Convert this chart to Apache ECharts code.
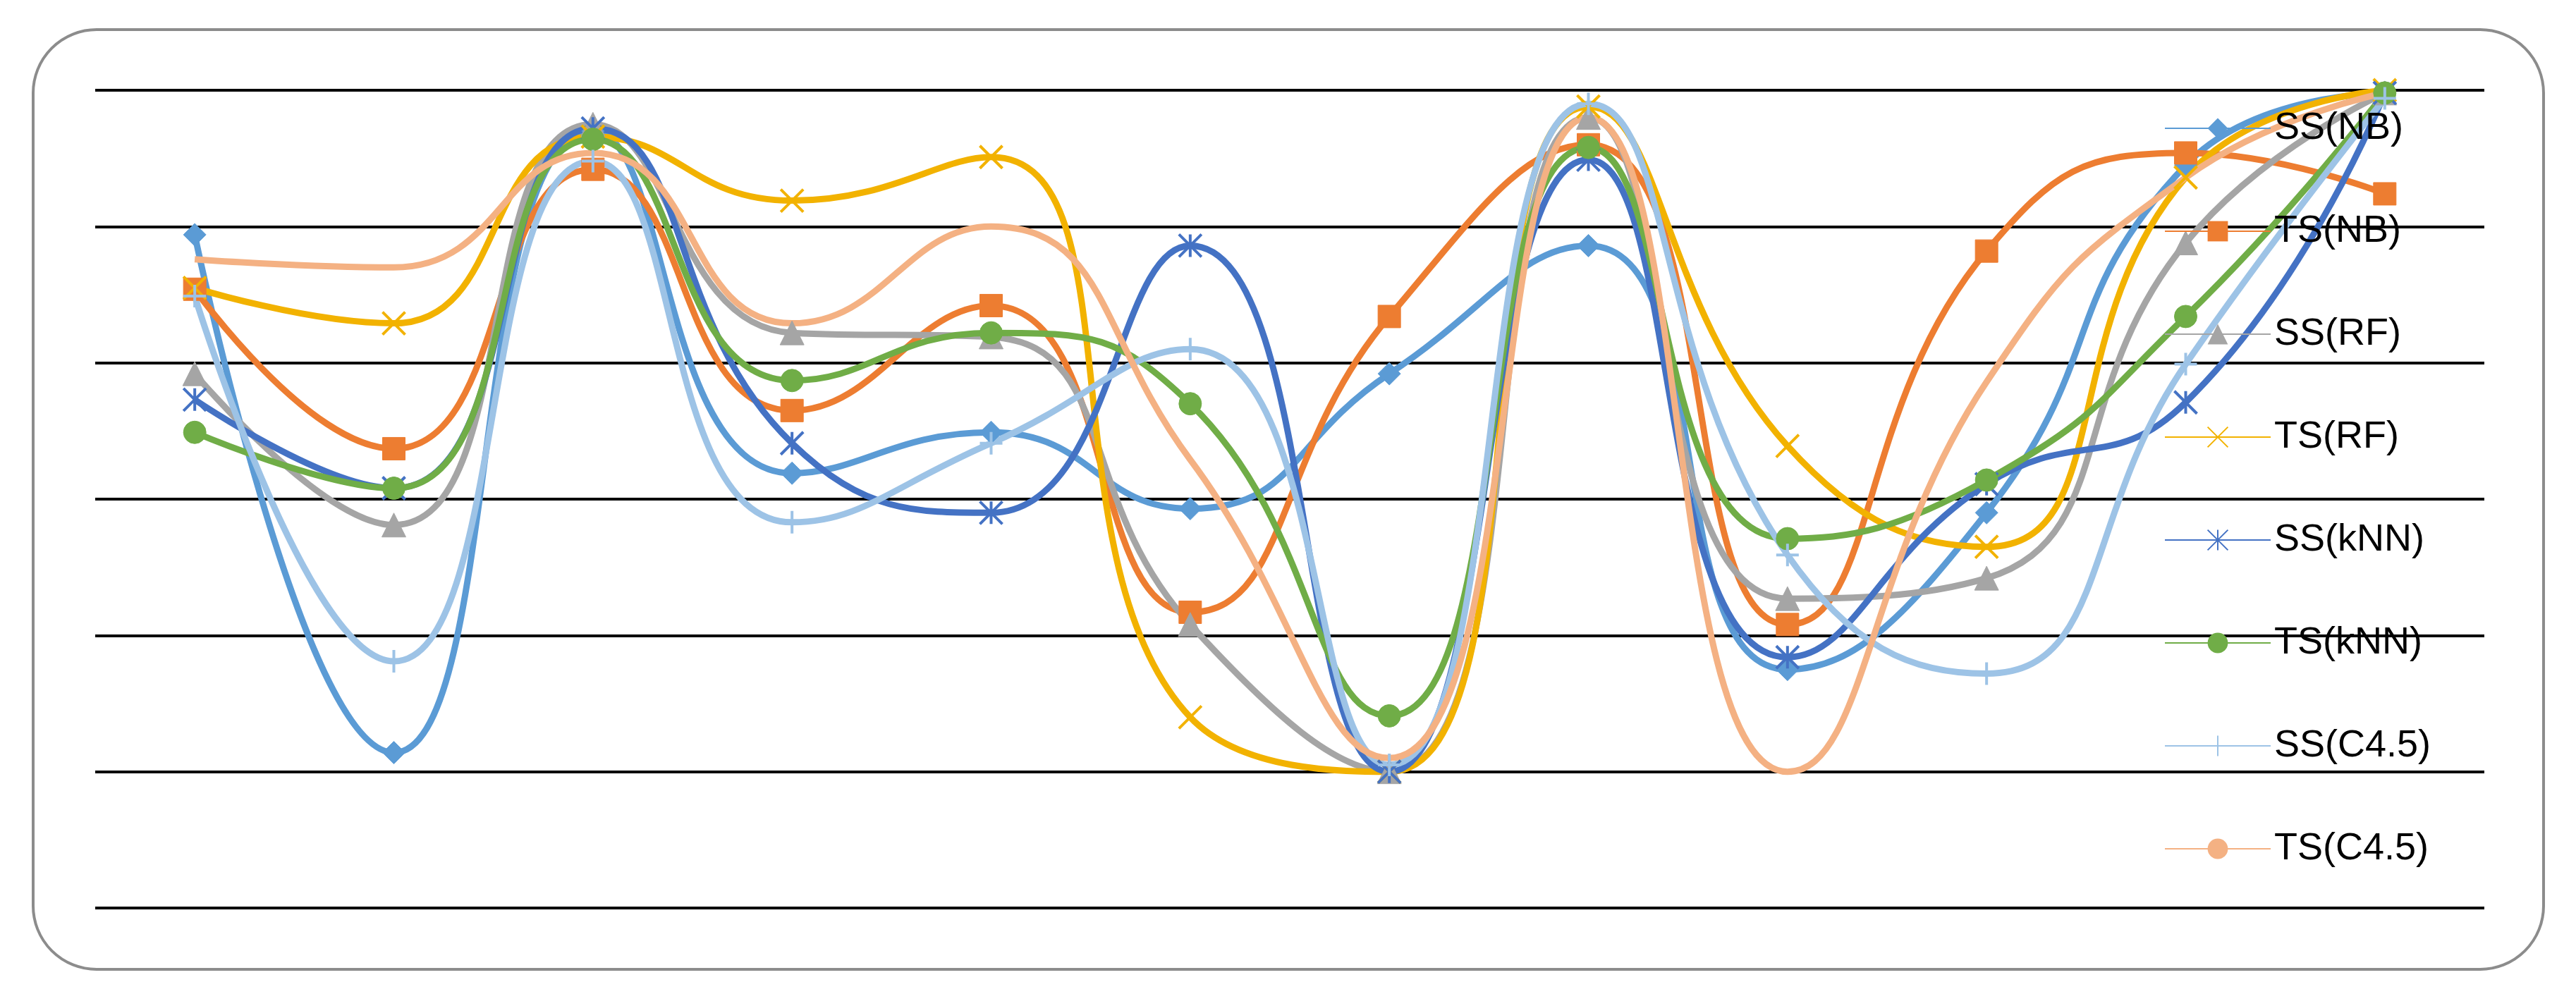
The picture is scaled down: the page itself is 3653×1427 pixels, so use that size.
<!DOCTYPE html>
<html><head><meta charset="utf-8">
<script src="https://cdn.jsdelivr.net/npm/echarts@6/dist/echarts.min.js"></script>
<style>html,body{margin:0;padding:0;background:#fff}#c{width:3653px;height:1427px}</style>
</head><body><div id="c"></div>
<script>
const categories = ['1','2','3','4','5','6','7','8','9','10','11','12'];
const ssNB  = [4.94,1.14,5.70,3.19,3.49,2.93,3.92,4.86,1.75,2.90,5.45,5.98];
const tsNB  = [4.54,3.37,5.42,3.65,4.42,2.17,4.34,5.60,2.08,4.82,5.54,5.24];
const ssRF  = [3.92,2.81,5.75,4.22,4.19,2.08,1.00,5.80,2.27,2.42,4.88,5.98];
const tsRF  = [4.55,4.29,5.66,5.19,5.51,1.40,1.00,5.88,3.39,2.65,5.36,6.00];
const ssKNN = [3.73,3.08,5.72,3.41,2.90,4.86,1.00,5.49,1.84,3.11,3.71,5.98];
const tsKNN = [3.49,3.08,5.64,3.87,4.22,3.70,1.41,5.58,2.71,3.14,4.34,5.98];
const ssC45 = [4.49,1.81,5.48,2.83,3.41,4.10,1.05,5.90,2.59,1.72,3.99,5.94];
const tsC45 = [4.76,4.70,5.54,4.29,5.00,3.29,1.10,5.80,1.00,3.86,5.36,5.98];

const defs = [
  ['SS(NB)', ssNB, '#5B9BD5', 'diamond'],
  ['TS(NB)', tsNB, '#ED7D31', 'rect'],
  ['SS(RF)', ssRF, '#A5A5A5', 'triangle'],
  ['TS(RF)', tsRF, '#F2B200', 'path://M0,0L10,10M10,0L0,10'],
  ['SS(kNN)', ssKNN, '#4472C4', 'path://M0,0L10,10M10,0L0,10M5,0L5,10'],
  ['TS(kNN)', tsKNN, '#70AD47', 'circle'],
  ['SS(C4.5)', ssC45, '#9DC3E6', 'path://M5,0L5,10M0,5L10,5'],
  ['TS(C4.5)', tsC45, '#F4B183', 'none']
];
const lineSym = s => s.startsWith('path://');
const chart = echarts.init(document.getElementById('c'));
chart.setOption({
  animation:false,
  graphic:[{type:'rect',shape:{x:47,y:42,width:3560,height:1333,r:90},style:{fill:'none',stroke:'#8c8c8c',lineWidth:4},z:-10}],
  grid:{left:135,right:130,top:128,bottom:139},
  legend:{orient:'vertical',left:3064,top:150,itemGap:92,itemWidth:150,itemHeight:36,
    textStyle:{fontSize:54,fontFamily:'Liberation Sans',color:'#000'},
    data:defs.map(d=>d[0])},
  xAxis:{type:'category',data:categories,boundaryGap:true,axisLabel:{show:false},axisTick:{show:false},axisLine:{show:false}},
  yAxis:{type:'value',min:0,max:6,interval:1,axisLabel:{show:false},splitLine:{lineStyle:{color:'#000',width:4}}},
  series:defs.map(d=>({
    name:d[0],type:'line',data:d[1],smooth:0.5,
    symbol:d[3],symbolSize:d[3]==='triangle'?34:32,showSymbol:d[3]!=='none',
    lineStyle:{color:d[2],width:9},
    itemStyle:lineSym(d[3])?{color:'rgba(0,0,0,0)',borderColor:d[2],borderWidth:4}:{color:d[2],borderColor:d[2]}
  }))
});
</script></body></html>
